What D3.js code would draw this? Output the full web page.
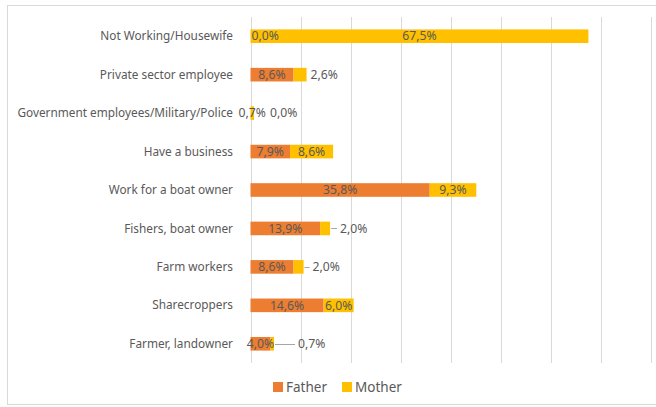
<!DOCTYPE html>
<html>
<head>
<meta charset="utf-8">
<script src="https://cdn.jsdelivr.net/npm/d3@7"></script>
<style>
  html, body { margin: 0; padding: 0; background: #ffffff; }
  svg { display: block; font-family: "Noto Sans", "Open Sans", sans-serif; }
</style>
</head>
<body>
<svg id="chart" width="656" height="407"></svg>
<script>
// Parents' occupation, share of respondents (%)
const categories = [
  "Not Working/Housewife",
  "Private sector employee",
  "Government employees/Military/Police",
  "Have a business",
  "Work for a boat owner",
  "Fishers, boat owner",
  "Farm workers",
  "Sharecroppers",
  "Farmer, landowner"
];
const fatherValues = [0.0, 8.6, 0.0, 7.9, 35.8, 13.9, 8.6, 14.6, 4.0];
const motherValues = [67.5, 2.6, 0.7, 8.6, 9.3, 2.0, 2.0, 6.0, 0.7];
const seriesNames = ["Father", "Mother"];
const gridTicks = [0, 10, 20, 30, 40, 50, 60, 70, 80];

// How each data label sits relative to its segment (father, mother)
const labelPlacement = [
  [{ mode: "start" }, { mode: "center" }],
  [{ mode: "center" }, { mode: "after", gap: 4 }],
  [{ mode: "after", gap: 16 }, { mode: "center" }],
  [{ mode: "center" }, { mode: "center" }],
  [{ mode: "center" }, { mode: "center" }],
  [{ mode: "center" }, { mode: "after", gap: 10, leader: true }],
  [{ mode: "center" }, { mode: "after", gap: 9, leader: true }],
  [{ mode: "center" }, { mode: "center" }],
  [{ mode: "center" }, { mode: "after", gap: 24, leader: true }]
];

const colors = { Father: "#ED7D31", Mother: "#FFC000" };
const textColor = "#595959";
const gridColor = "#D9D9D9";
const categorySize = 11.8;
const labelSize = 12.2;

const svg = d3.select("#chart");

// Chart frame
svg.append("rect")
  .attr("x", 7.5).attr("y", 5.5)
  .attr("width", 700).attr("height", 399)
  .attr("fill", "#fff")
  .attr("stroke", gridColor).attr("stroke-width", 1);

const plotTop = 17, plotBottom = 363;
const x = d3.scaleLinear().domain([0, 80]).range([250.5, 651]);
const y = d3.scaleBand().domain(categories)
  .range([plotTop, plotBottom])
  .paddingInner(0.646).paddingOuter(0.323);

// Vertical gridlines
svg.append("g").selectAll("line").data(gridTicks).join("line")
  .attr("x1", d => Math.round(x(d)) + 0.5).attr("x2", d => Math.round(x(d)) + 0.5)
  .attr("y1", plotTop).attr("y2", plotBottom)
  .attr("stroke", gridColor).attr("stroke-width", 1);

// Category labels
svg.append("g").selectAll("text").data(categories).join("text")
  .attr("x", 233)
  .attr("y", d => y(d) + y.bandwidth() / 2)
  .attr("dy", "0.35em")
  .attr("text-anchor", "end")
  .attr("font-size", categorySize)
  .attr("fill", textColor)
  .text(d => d);

// Stacked segments
const rows = categories.map((c, i) => ({ category: c, Father: fatherValues[i], Mother: motherValues[i] }));
const stacked = d3.stack().keys(seriesNames)(rows);

svg.append("g").selectAll("g").data(stacked).join("g")
  .attr("fill", s => colors[s.key])
  .selectAll("rect").data(s => s).join("rect")
  .attr("x", d => x(d[0]))
  .attr("y", d => y(d.data.category))
  .attr("width", d => x(d[1]) - x(d[0]))
  .attr("height", y.bandwidth());

// Data labels
const fmt = v => d3.format(".1f")(v).replace(".", ",") + "%";
const labels = svg.append("g").attr("font-size", labelSize).attr("fill", textColor);
stacked.forEach((s, si) => {
  s.forEach((d, i) => {
    const p = labelPlacement[i][si];
    const cy = y(d.data.category) + y.bandwidth() / 2;
    const stackEnd = x(d.data.Father + d.data.Mother);
    let tx, anchor = "middle";
    if (p.mode === "center") {
      tx = (x(d[0]) + x(d[1])) / 2;
    } else if (p.mode === "start") {
      tx = x(d[0]) + 1; anchor = "start";
    } else {
      tx = stackEnd + p.gap; anchor = "start";
      if (p.leader) {
        labels.append("line")
          .attr("x1", stackEnd + 1).attr("x2", tx - 3)
          .attr("y1", Math.round(cy) + 0.5).attr("y2", Math.round(cy) + 0.5)
          .attr("stroke", "#A6A6A6").attr("stroke-width", 1);
      }
    }
    labels.append("text")
      .attr("x", tx).attr("y", cy).attr("dy", "0.35em")
      .attr("text-anchor", anchor)
      .text(fmt(d.data[s.key]));
  });
});

// Legend
const legend = svg.append("g").attr("transform", "translate(273,387)");
let lx = 0;
seriesNames.forEach(name => {
  const g = legend.append("g").attr("transform", `translate(${lx},0)`);
  g.append("rect").attr("x", 0).attr("y", -5).attr("width", 10).attr("height", 10)
    .attr("fill", colors[name]);
  const t = g.append("text").attr("x", 13).attr("y", 0).attr("dy", "0.35em")
    .attr("font-size", 13.5).attr("fill", textColor).text(name);
  lx += 13 + t.node().getComputedTextLength() + 15;
});
</script>
</body>
</html>
